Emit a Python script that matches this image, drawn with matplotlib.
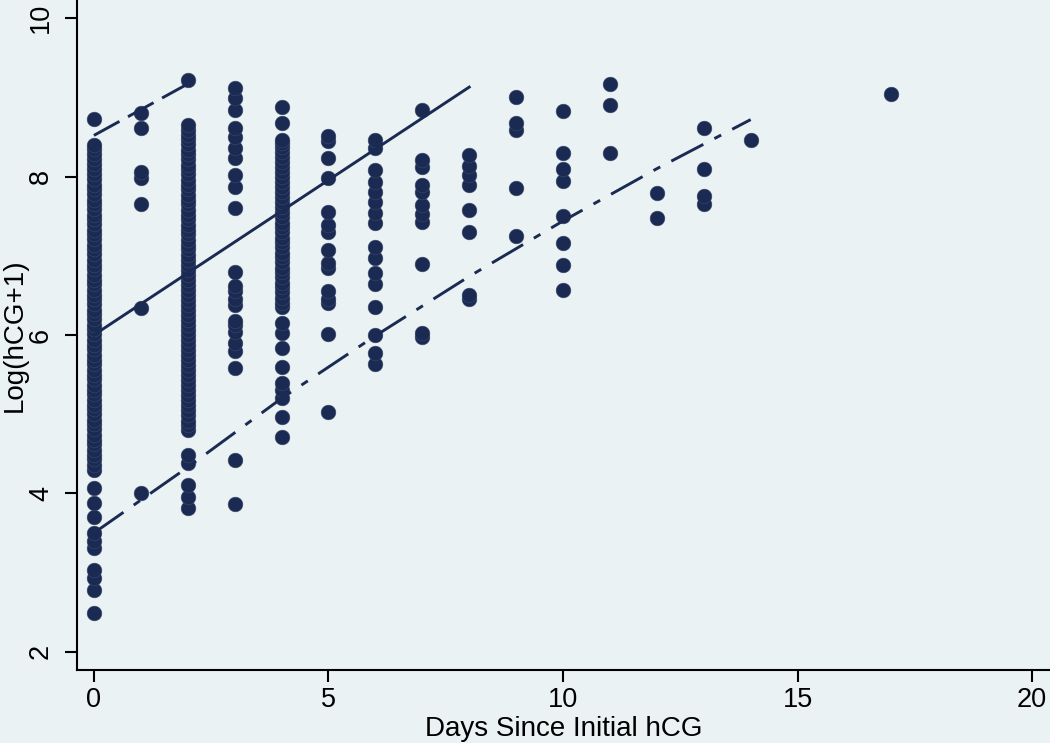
import matplotlib
matplotlib.use('Agg')
import matplotlib.pyplot as plt

plt.rcParams['font.family'] = ['Liberation Sans', 'DejaVu Sans']
plt.rcParams['lines.scale_dashes'] = False

# observed points, one list per day
day0 = [2.49, 2.78, 2.93, 3.03, 3.31, 3.40, 3.50, 3.70, 3.88, 4.07,
        4.30, 4.36, 4.43, 4.49, 4.55, 4.62, 4.68, 4.74, 4.81, 4.87, 4.93, 5.00,
        5.06, 5.12, 5.18, 5.25, 5.31, 5.37, 5.44, 5.50, 5.56, 5.63, 5.69, 5.75,
        5.82, 5.88, 5.94, 6.01, 6.07, 6.13, 6.20, 6.26, 6.32, 6.39, 6.45, 6.51,
        6.57, 6.64, 6.70, 6.76, 6.83, 6.89, 6.95, 7.02, 7.08, 7.14, 7.21, 7.27,
        7.33, 7.40, 7.46, 7.52, 7.59, 7.65, 7.71, 7.78, 7.84, 7.90, 7.97, 8.03,
        8.09, 8.16, 8.22, 8.28, 8.35, 8.40, 8.73]
day1 = [4.00, 6.34, 7.65, 7.98, 8.06, 8.61, 8.80]
day2 = [3.81, 3.95, 4.10, 4.38, 4.48,
        4.80, 4.86, 4.92, 4.99, 5.05, 5.11, 5.18, 5.24, 5.30, 5.37, 5.43, 5.49,
        5.56, 5.62, 5.68, 5.75, 5.81, 5.87, 5.94, 6.00, 6.06, 6.13, 6.19, 6.25,
        6.32, 6.38, 6.44, 6.51, 6.57, 6.63, 6.70, 6.76, 6.82, 6.89, 6.95, 7.01,
        7.08, 7.14, 7.20, 7.27, 7.33, 7.39, 7.46, 7.52, 7.58, 7.65, 7.71, 7.77,
        7.84, 7.90, 7.96, 8.03, 8.09, 8.15, 8.22, 8.28, 8.34, 8.41, 8.47, 8.53,
        8.59, 8.65, 9.22]
day3 = [3.87, 4.42, 5.58, 5.80, 5.90, 6.04, 6.12, 6.18, 6.38, 6.45, 6.55,
        6.62, 6.79, 7.60, 7.87, 8.02, 8.23, 8.36, 8.50, 8.62, 8.84, 8.99, 9.12]
day4 = [4.71, 4.96, 5.21, 5.30, 5.40, 5.59, 5.83, 6.02, 6.15,
        6.35, 6.41, 6.47, 6.54, 6.60, 6.66, 6.73, 6.79, 6.85, 6.92, 6.98, 7.04,
        7.11, 7.17, 7.23, 7.30, 7.36, 7.42, 7.49, 7.55, 7.61, 7.68, 7.74, 7.80,
        7.87, 7.93, 7.99, 8.06, 8.12, 8.18, 8.25, 8.31, 8.37, 8.42, 8.46,
        8.68, 8.88]
day5 = [5.03, 6.01, 6.40, 6.46, 6.56, 6.84, 6.91, 7.07, 7.30, 7.39, 7.55,
        7.98, 8.23, 8.45, 8.51]
day6 = [5.64, 5.77, 6.00, 6.35, 6.65, 6.78, 6.97, 7.11, 7.41, 7.54, 7.68,
        7.80, 7.93, 8.08, 8.36, 8.46]
day7 = [5.97, 6.02, 6.90, 7.43, 7.53, 7.64, 7.80, 7.89, 8.12, 8.21, 8.84]
day8 = [6.46, 6.50, 7.30, 7.58, 7.89, 8.02, 8.14, 8.27]
day9 = [7.25, 7.86, 8.59, 8.68, 9.00]
day10 = [6.57, 6.88, 7.16, 7.50, 7.95, 8.09, 8.30, 8.83]
day11 = [8.30, 8.90, 9.17]
day12 = [7.48, 7.79]
day13 = [7.66, 7.76, 8.09, 8.62]
day14 = [8.46]
day17 = [9.04]

days = [0, 1, 2, 3, 4, 5, 6, 7, 8, 9, 10, 11, 12, 13, 14, 17]
values = [day0, day1, day2, day3, day4, day5, day6, day7, day8, day9,
          day10, day11, day12, day13, day14, day17]

# fitted lines
mid_x = [0, 8]
mid_y = [6.00, 9.13]
upper_x = [0, 2]
upper_y = [8.52, 9.17]
lower_x = [0, 2, 4, 6, 8, 10, 12, 14]
lower_y = [3.50, 4.33, 5.20, 5.99, 6.74, 7.44, 8.10, 8.72]

bg = '#eaf2f3'
navy = '#1b2a52'

fig = plt.figure(figsize=(10.5, 7.43), dpi=100, facecolor=bg)
ax = fig.add_axes([77/1050, 73/743, 973/1050, 670/743])
ax.set_facecolor(bg)

for d, v in zip(days, values):
    ax.scatter([d]*len(v), v, s=112, color=navy, edgecolors='#3a4a6a',
               linewidths=0.4, zorder=3)

ax.plot(mid_x, mid_y, color=navy, lw=2.1, zorder=4)
ax.plot(upper_x, upper_y, color=navy, lw=2.1, linestyle=(0, (21, 7)), zorder=4)
ax.plot(lower_x, lower_y, color=navy, lw=2.1,
        linestyle=(0, (26, 9, 5.5, 9)), zorder=4)

ax.set_xlim(-0.36, 20.38)
ax.set_ylim(1.77, 10.23)
ax.set_xticks([0, 5, 10, 15, 20])
ax.set_yticks([2, 4, 6, 8, 10])
ax.spines['top'].set_visible(False)
ax.spines['right'].set_visible(False)
for s in ['left', 'bottom']:
    ax.spines[s].set_linewidth(1.5)
    ax.spines[s].set_color('black')
ax.tick_params(axis='both', length=8.5, width=1.5, labelsize=19.5, pad=4)
ax.tick_params(axis='y', pad=8)
plt.setp(ax.get_yticklabels(), rotation=90, va='center')

ax.set_xlabel('Days Since Initial hCG', fontsize=20, labelpad=2)
ax.set_ylabel('Log(hCG+1)', fontsize=20, labelpad=0)

plt.savefig('out.png', dpi=100, facecolor=bg)
